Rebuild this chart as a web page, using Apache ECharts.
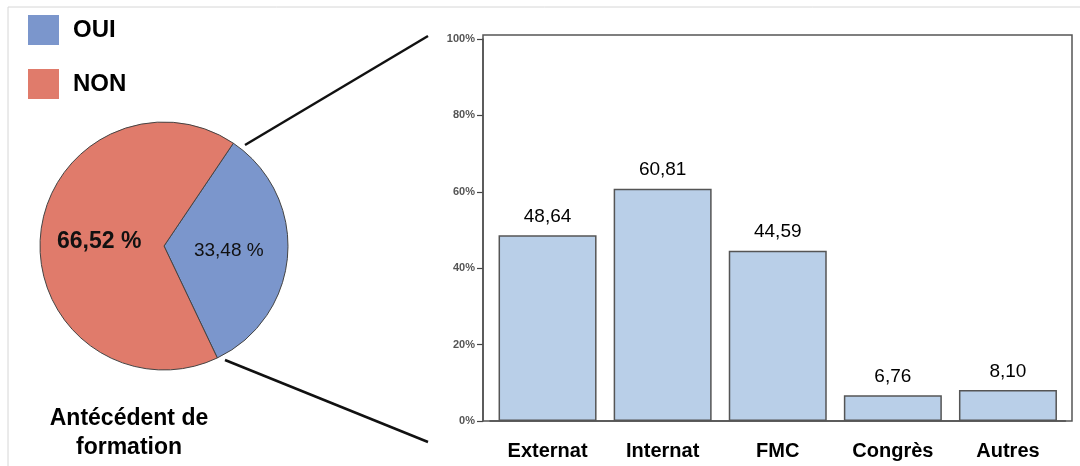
<!DOCTYPE html>
<html>
<head>
<meta charset="utf-8">
<script src="https://cdn.jsdelivr.net/npm/echarts@6/dist/echarts.min.js"></script>
<style>html,body{margin:0;padding:0;background:#fff;}#c{width:1080px;height:466px;}</style>
</head>
<body>
<div id="c"></div>
<script>
const pieNames = ['OUI', 'NON'];
const pieValues = [33.48, 66.52];
const categories = ['Externat', 'Internat', 'FMC', 'Congrès', 'Autres'];
const barValues = [48.64, 60.81, 44.59, 6.76, 8.10];
const yTicks = [0, 20, 40, 60, 80, 100];

const FONT = '"Liberation Sans", Arial, sans-serif';
const fmt = v => v.toFixed(2).replace('.', ',');

const pieLabelStyles = [
  { fontSize: 19, fontWeight: 'normal' },
  { fontSize: 23, fontWeight: 'bold' }
];
const pieColors = ['#7b96cc', '#e07b6b'];

const chart = echarts.init(document.getElementById('c'), null, { renderer: 'canvas' });
chart.setOption({
  animation: false,
  backgroundColor: '#ffffff',
  textStyle: { fontFamily: FONT },
  title: {
    text: 'Antécédent de\nformation',
    left: 129, top: 404, textAlign: 'center', padding: 0,
    textStyle: { fontFamily: FONT, fontSize: 23, fontWeight: 'bold', color: '#000', lineHeight: 29 }
  },
  legend: {
    data: pieNames,
    orient: 'vertical', left: 28, top: 15, padding: 0,
    itemWidth: 31, itemHeight: 30, itemGap: 24,
    icon: 'rect',
    itemStyle: { borderWidth: 0 },
    textStyle: { fontFamily: FONT, fontSize: 24, fontWeight: 'bold', color: '#000', padding: [5, 0, 0, 9] },
    selectedMode: false
  },
  grid: { left: 490, right: 14.5, top: 39, bottom: 45 },
  xAxis: {
    type: 'category',
    data: categories,
    axisLine: { lineStyle: { color: '#444', width: 1.5 } },
    axisTick: { alignWithLabel: true, length: 6, lineStyle: { color: '#666', width: 1.5 } },
    axisLabel: { fontFamily: FONT, fontSize: 20, fontWeight: 'bold', color: '#000', margin: 20 }
  },
  yAxis: {
    type: 'value',
    min: yTicks[0], max: yTicks[yTicks.length - 1], interval: yTicks[1] - yTicks[0],
    offset: 7,
    axisLine: { show: true, lineStyle: { color: '#444', width: 1.5 } },
    axisTick: { show: true, length: 6, lineStyle: { color: '#444', width: 1.2 } },
    axisLabel: { formatter: '{value}%', fontFamily: FONT, fontSize: 11, fontWeight: 'bold', color: '#555', margin: 8 },
    splitLine: { show: false }
  },
  series: [
    {
      type: 'pie',
      name: 'Antécédent',
      center: [164, 246],
      radius: 124,
      startAngle: 56,
      clockwise: true,
      label: {
        show: true, position: 'inside', color: '#111', fontFamily: FONT,
        formatter: p => fmt(p.value) + ' %'
      },
      labelLine: { show: false },
      itemStyle: { borderColor: '#444', borderWidth: 1 },
      emphasis: { disabled: true },
      data: pieNames.map((n, i) => ({
        name: n, value: pieValues[i],
        itemStyle: { color: pieColors[i] },
        label: pieLabelStyles[i]
      }))
    },
    {
      type: 'bar',
      name: 'Formation',
      data: barValues,
      barWidth: 98,
      itemStyle: { color: '#b9cfe8', borderColor: '#555', borderWidth: 1.5 },
      label: {
        show: true, position: 'top', distance: 9,
        fontFamily: FONT, fontSize: 19, color: '#000',
        formatter: p => fmt(p.value)
      },
      emphasis: { disabled: true }
    }
  ],
  graphic: [
    { type: 'rect', z: -1, shape: { x: 8, y: 7, width: 1100, height: 500 }, style: { fill: 'none', stroke: '#d6d6d6', lineWidth: 1 } },
    { type: 'rect', z: 10, shape: { x: 483, y: 35, width: 589, height: 386 }, style: { fill: 'none', stroke: '#555', lineWidth: 1.5 } },
    { type: 'line', z: 10, shape: { x1: 245, y1: 145, x2: 428, y2: 36 }, style: { stroke: '#111', lineWidth: 2.5 } },
    { type: 'line', z: 10, shape: { x1: 225, y1: 360, x2: 428, y2: 442 }, style: { stroke: '#111', lineWidth: 2.5 } }
  ]
});
</script>
</body>
</html>
